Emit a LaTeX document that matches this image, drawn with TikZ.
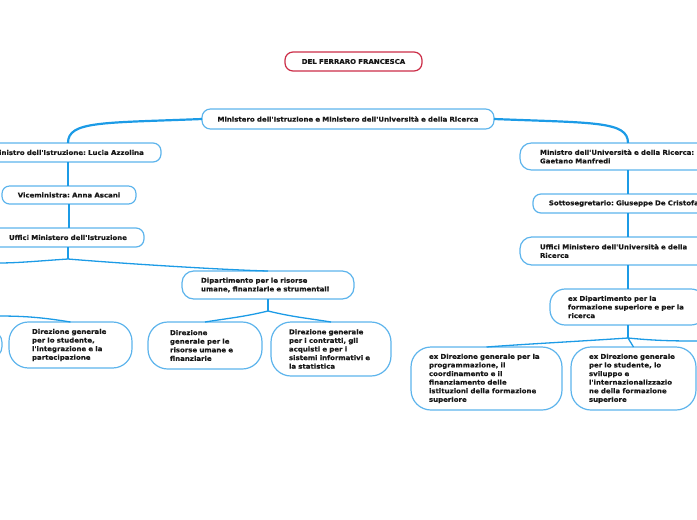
\documentclass[tikz,border=0pt]{standalone}
\usepackage{fontspec}
\newfontfamily\mmfont[FakeStretch=1.06,BoldFeatures={FakeBold=0.4}]{DejaVu Sans}
\usepackage{xcolor}
\usepackage{tikz}
\definecolor{ramoblu}{HTML}{1C9BE6}
\definecolor{bordoblu}{HTML}{5DB4EC}
\definecolor{radice}{HTML}{CC2E48}
\frenchspacing

\begin{document}
\begin{tikzpicture}[x=1pt,y=-1pt,font=\mmfont\bfseries\fontsize{6.6}{8.6}\selectfont,
  bx/.style={draw=bordoblu,line width=1.2pt,fill=white,align=left,inner ysep=2pt,outer sep=0pt,text=black!90},
  ramo/.style={draw=ramoblu,line width=1.5pt}]
\useasboundingbox (0,0) rectangle (697,520);
\clip (0,0) rectangle (697,520);
\newcommand{\casella}[8][]{\pgfmathsetmacro\cLar{#5-#3-2*#7}\pgfmathsetmacro\cAlt{#6-#4}\pgfmathsetmacro\cRag{min(0.42*(#6-#4),20)}
  \node[bx,text width=\cLar pt,inner xsep=#7pt,minimum height=\cAlt pt,rounded corners=\cRag pt,#1] (#2) at ({(#3+#5)/2},{(#4+#6)/2}) {#8};}
\casella[align=center,draw=radice]{titolo}{285}{52}{422}{71}{6}{DEL FERRARO FRANCESCA}
\casella[align=center]{ministeri}{202}{109}{494}{129}{6}{Ministero dell'Istruzione e Ministero dell'Università e della Ricerca}
\casella[align=center]{minI}{-25}{143}{161}{162}{6}{Ministro dell'Istruzione: Lucia Azzolina}
\casella[align=center]{vice}{2}{186}{136}{204}{6}{Viceministra: Anna Ascani}
\casella[align=center]{uffI}{-8}{228}{144}{247}{6}{Uffici Ministero dell'Istruzione}
\casella{dipRis}{182}{271}{354}{299}{19}{Dipartimento per le risorse\\umane, finanziarie e strumentali}
\casella{dgRis}{148}{322}{262}{369}{22}{Direzione\\generale per le\\risorse umane e\\finanziarie}
\casella{dgCon}{271}{322}{391}{376}{18}{Direzione generale\\per i contratti, gli\\acquisti e per i\\sistemi informativi e\\la statistica}
\casella{dgStu}{9}{322}{132}{368}{23}{Direzione generale\\per lo studente,\\l'integrazione e la\\partecipazione}
\casella{fuori}{-80}{331}{2}{358}{4}{}
\casella{minU}{520}{143}{736}{170}{20}{Ministro dell'Università e della Ricerca:\\Gaetano Manfredi}
\casella[align=center]{sott}{533}{194}{723}{213}{6}{Sottosegretario: Giuseppe De Cristofaro}
\casella{uffU}{520}{237}{736}{265}{20}{Uffici Ministero dell'Università e della\\Ricerca}
\casella{exDip}{550}{289}{706}{325}{18}{ex Dipartimento per la\\formazione superiore e per la\\ricerca}
\casella{exProg}{411}{347}{562}{410}{18}{ex Direzione generale per la\\programmazione, il\\coordinamento e il\\finanziamento delle\\istituzioni della formazione\\superiore}
\casella{exStu}{571}{347}{696}{410}{18}{ex Direzione generale\\per lo studente, lo\\sviluppo e\\l'internazionalizzazio\\ne della formazione\\superiore}
\coordinate (sI) at (68,259); \coordinate (sD) at (268,311); \coordinate (sE) at (628,338);
\coordinate (fuoriA) at (-2,263); \coordinate (fuoriB) at (-2,316); \coordinate (fuoriC) at (699,341);
\draw[ramo,line width=2.2pt] (ministeri.west) .. controls +(-100,4) and +(0,-22) .. (minI.north);
\draw[ramo,line width=2.2pt] (ministeri.east) .. controls +(100,4) and +(0,-22) .. (minU.north);
\foreach \a/\b in {minI/vice,vice/uffI,minU/sott,sott/uffU,uffU/exDip}
  \draw[ramo] (\a.south) -- (\a.south |- \b.north);
\draw[ramo] (uffI.south) -- (sI) (dipRis.south) -- (sD) (exDip.south) -- (sE);
\draw[ramo,line width=1.3pt] (sI) .. controls +(-30,2) and +(20,0) .. (fuoriA);
\draw[ramo,line width=1.3pt] (sI) .. controls +(60,5) and +(-40,-1) .. (dipRis.north);
\draw[ramo,line width=1.3pt] (sD) .. controls +(-25,6) and +(25,-4) .. (dgRis.north);
\draw[ramo,line width=1.3pt] (sD) .. controls +(25,6) and +(-25,-4) .. (dgCon.north);
\draw[ramo,line width=1.3pt] (fuoriB) .. controls +(30,0) and +(-25,-4) .. (dgStu.north);
\draw[ramo,line width=1.3pt] (sE) .. controls +(-60,4) and +(40,-3) .. (exProg.north);
\draw[ramo,line width=1.3pt] (sE) .. controls +(2,4) and +(-2,-5) .. (exStu.north);
\draw[ramo,line width=1.3pt] (sE) .. controls +(30,3) and +(-20,0) .. (fuoriC);
\end{tikzpicture}
\end{document}
